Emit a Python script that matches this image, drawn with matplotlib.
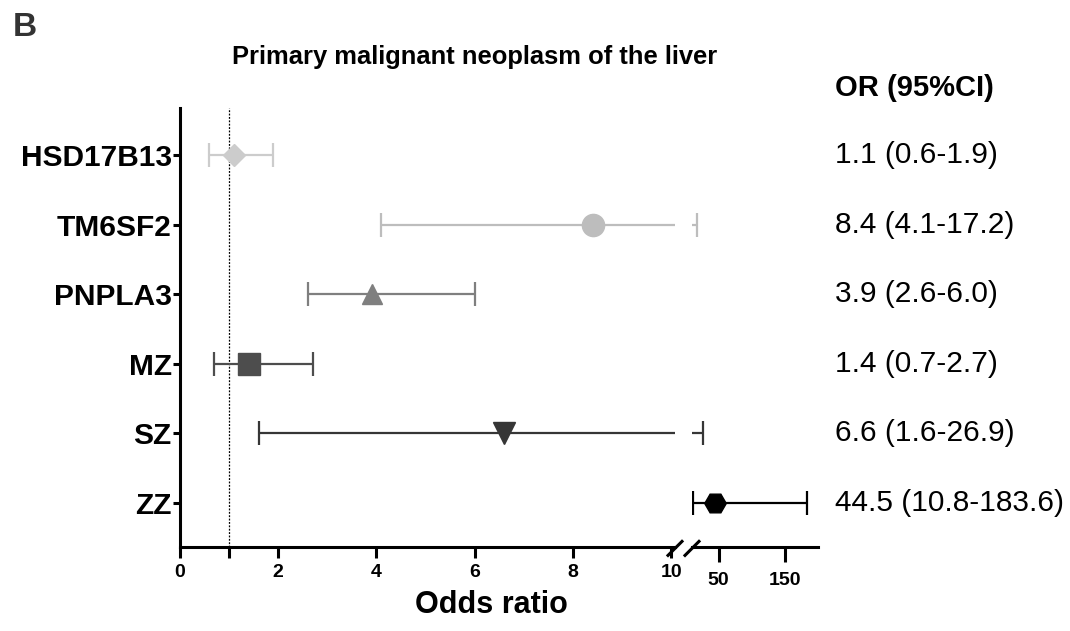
import matplotlib
matplotlib.use('Agg')
import matplotlib.pyplot as plt
from matplotlib.lines import Line2D

plt.rcParams['font.family'] = ['Liberation Sans', 'DejaVu Sans']

# Data
genes = ['HSD17B13', 'TM6SF2', 'PNPLA3', 'MZ', 'SZ', 'ZZ']
odds = [1.1, 8.4, 3.9, 1.4, 6.6, 44.5]
ci_low = [0.6, 4.1, 2.6, 0.7, 1.6, 10.8]
ci_high = [1.9, 17.2, 6.0, 2.7, 26.9, 183.6]
or_text = ['1.1 (0.6-1.9)', '8.4 (4.1-17.2)', '3.9 (2.6-6.0)',
           '1.4 (0.7-2.7)', '6.6 (1.6-26.9)', '44.5 (10.8-183.6)']
left_ticks = [0, 2, 4, 6, 8, 10]
right_ticks = [50, 150]
ref_line = 1

# Styles
markers = ['D', 'o', '^', 's', 'v', 'H']
msizes = [11, 16, 15, 16.5, 15.5, 15.5]
colors = ['#cccccc', '#bdbdbd', '#7f7f7f', '#4d4d4d', '#363636', '#000000']

W, H = 1070, 631
fig = plt.figure(figsize=(W / 100, H / 100), dpi=100)

bottom = (H - 547) / H
height = 439 / H
ax1 = fig.add_axes([180 / W, bottom, 495 / W, height])
ax2 = fig.add_axes([692 / W, bottom, 126 / W, height])
ax1.set_xlim(0, 10.08)
ax2.set_xlim(10, 200)

ypos = [len(genes) - 1 - i for i in range(len(genes))]

for ax in (ax1, ax2):
    lo, hi = ax.get_xlim()
    for i, g in enumerate(genes):
        ax.errorbar(odds[i], ypos[i],
                    xerr=[[odds[i] - ci_low[i]], [ci_high[i] - odds[i]]],
                    fmt='none', ecolor=colors[i], elinewidth=1.6,
                    capsize=8.3, capthick=1.6)
        # point only on the segment that holds it
        if lo <= odds[i] <= hi:
            ax.plot(odds[i], ypos[i], marker=markers[i], ms=msizes[i],
                    color=colors[i], mec=colors[i], ls='none', zorder=3)
    ax.set_ylim(-0.632, 5.675)
    ax.spines['top'].set_visible(False)
    ax.spines['right'].set_visible(False)
    ax.spines['bottom'].set_linewidth(2.2)
    ax.spines['left'].set_linewidth(2.2)

ax1.axvline(ref_line, color='black', ls=(0, (1.5, 1.2)), lw=0.9, zorder=0)
ax1.set_xticks(left_ticks)
ax1.set_xticks([ref_line], minor=True)
ax1.set_xticklabels([str(t) for t in left_ticks], fontsize=14, fontweight='bold')
ax1.tick_params(axis='x', which='both', length=8, width=2.2, pad=4)
ax1.set_yticks(ypos)
ax1.set_yticklabels(genes, fontsize=21.5, fontweight='bold')
ax1.tick_params(axis='y', length=5, width=2.2, pad=1)

ax2.spines['left'].set_visible(False)
ax2.set_yticks([])
ax2.set_xticks(right_ticks)
ax2.set_xticklabels([str(t) for t in right_ticks], fontsize=14, fontweight='bold')
ax2.tick_params(axis='x', length=11, width=2.2, pad=7)

# axis break marks
d = 7
for ax, xa in ((ax1, 1), (ax2, 0)):
    x0, y0 = ax.transAxes.transform((xa, 0))
    line = Line2D([(x0 - d) / W, (x0 + d) / W], [(y0 - 1.2 * d) / H, (y0 + 0.8 * d) / H],
                  transform=fig.transFigure, color='black', lw=2.2, clip_on=False)
    fig.add_artist(line)

# OR text column
for i, t in enumerate(or_text):
    _, yp = ax1.transData.transform((0, ypos[i]))
    fig.text(835 / W, yp / H, t, fontsize=21.5, ha='left', va='center')

fig.text(835 / W, 1 - 88 / H, 'OR (95%CI)', fontsize=21, fontweight='bold',
         ha='left', va='center')
fig.text(475 / W, 1 - 57 / H, 'Primary malignant neoplasm of the liver',
         fontsize=18.4, fontweight='bold', ha='center', va='center')
fig.text(491 / W, 1 - 605 / H, 'Odds ratio', fontsize=22, fontweight='bold',
         ha='center', va='center')
fig.text(13 / W, 1 - 28 / H, 'B', fontsize=24, fontweight='bold', color='#333333',
         ha='left', va='center')

fig.savefig('out.png', dpi=100)
